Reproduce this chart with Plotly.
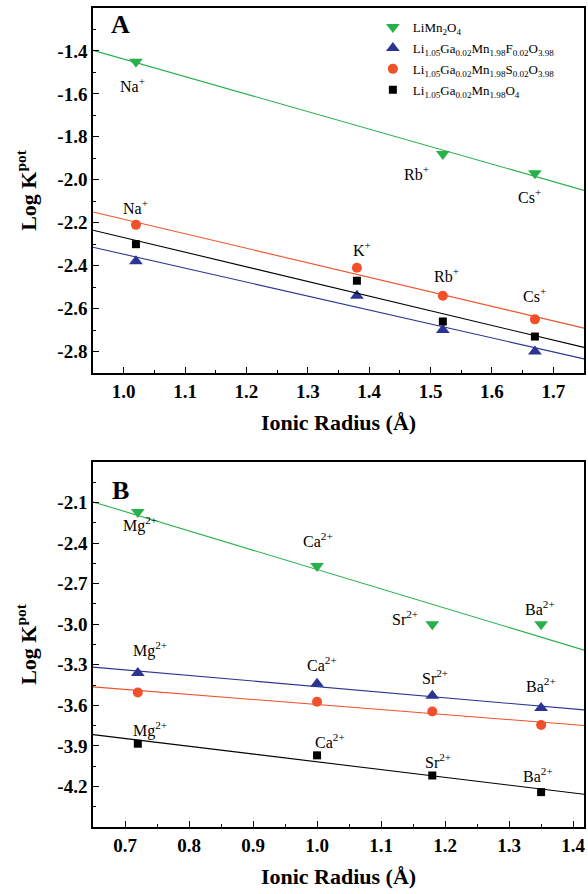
import numpy as np
import plotly.graph_objects as go

# ---------------- data ----------------
series_names = [
    "LiMn<sub>2</sub>O<sub>4</sub>",
    "Li<sub>1.05</sub>Ga<sub>0.02</sub>Mn<sub>1.98</sub>F<sub>0.02</sub>O<sub>3.98</sub>",
    "Li<sub>1.05</sub>Ga<sub>0.02</sub>Mn<sub>1.98</sub>S<sub>0.02</sub>O<sub>3.98</sub>",
    "Li<sub>1.05</sub>Ga<sub>0.02</sub>Mn<sub>1.98</sub>O<sub>4</sub>",
]

# Panel A: monovalent ions
ionsA = ["Na", "K", "Rb", "Cs"]
radiusA = [1.02, 1.38, 1.52, 1.67]
A_LiMn2O4_x = [1.02, 1.52, 1.67]
A_LiMn2O4_y = [-1.45, -1.88, -1.97]
A_F_y = [-2.38, -2.54, -2.70, -2.80]
A_S_y = [-2.21, -2.41, -2.54, -2.65]
A_base_y = [-2.30, -2.47, -2.66, -2.73]

# Panel B: divalent ions
ionsB = ["Mg", "Ca", "Sr", "Ba"]
radiusB = [0.72, 1.00, 1.18, 1.35]
B_LiMn2O4_y = [-2.17, -2.57, -3.00, -3.00]
B_F_y = [-3.36, -3.44, -3.53, -3.62]
B_S_y = [-3.505, -3.574, -3.645, -3.745]
B_base_y = [-3.884, -3.97, -4.119, -4.242]

# tick labels
A_xticks = [1.0, 1.1, 1.2, 1.3, 1.4, 1.5, 1.6, 1.7]
A_xticktext = ["1.0", "1.1", "1.2", "1.3", "1.4", "1.5", "1.6", "1.7"]
A_yticks = [-1.4, -1.6, -1.8, -2.0, -2.2, -2.4, -2.6, -2.8]
A_yticktext = ["-1.4", "-1.6", "-1.8", "-2.0", "-2.2", "-2.4", "-2.6", "-2.8"]
B_xticks = [0.7, 0.8, 0.9, 1.0, 1.1, 1.2, 1.3, 1.4]
B_xticktext = ["0.7", "0.8", "0.9", "1.0", "1.1", "1.2", "1.3", "1.4"]
B_yticks = [-2.1, -2.4, -2.7, -3.0, -3.3, -3.6, -3.9, -4.2]
B_yticktext = ["-2.1", "-2.4", "-2.7", "-3.0", "-3.3", "-3.6", "-3.9", "-4.2"]

# ---------------- style ----------------
GREEN = "#27b14b"
BLUE = "#2b3591"
ORANGE = "#f0502a"
BLACK = "#000000"
FONT = "Liberation Serif"

A_xrange = [0.95, 1.75]
A_yrange = [-2.9, -1.2]
B_xrange = [0.65, 1.417]
B_yrange = [-4.5, -1.8]

fig = go.Figure()

def add_series(x, y, color, symbol, size, name, group, xa, ya, legend):
    fig.add_trace(go.Scatter(
        x=x, y=y, mode="markers", name=name, showlegend=legend, legendgroup=group,
        marker=dict(symbol=symbol, size=size, color=color, line=dict(width=0)),
        xaxis=xa, yaxis=ya, hoverinfo="skip"))
    k, b = np.polyfit(x, y, 1)
    xr = A_xrange if xa == "x" else B_xrange
    xs = np.array(xr)
    fig.add_trace(go.Scatter(
        x=xs, y=k * xs + b, mode="lines", showlegend=False, legendgroup=group,
        line=dict(color=color, width=1.1), xaxis=xa, yaxis=ya, hoverinfo="skip"))

# Panel A
add_series(A_LiMn2O4_x, A_LiMn2O4_y, GREEN, "triangle-down", 12, series_names[0], "g0", "x", "y", True)
add_series(radiusA, A_F_y, BLUE, "triangle-up", 12, series_names[1], "g1", "x", "y", True)
add_series(radiusA, A_S_y, ORANGE, "circle", 10, series_names[2], "g2", "x", "y", True)
add_series(radiusA, A_base_y, BLACK, "square", 8, series_names[3], "g3", "x", "y", True)
# Panel B
add_series(radiusB, B_LiMn2O4_y, GREEN, "triangle-down", 12, series_names[0], "g0", "x2", "y2", False)
add_series(radiusB, B_F_y, BLUE, "triangle-up", 12, series_names[1], "g1", "x2", "y2", False)
add_series(radiusB, B_S_y, ORANGE, "circle", 10, series_names[2], "g2", "x2", "y2", False)
add_series(radiusB, B_base_y, BLACK, "square", 8, series_names[3], "g3", "x2", "y2", False)

annotations = []

def ion_label(text, charge, x, y, dx, dy, xa, ya):
    annotations.append(dict(
        text=f"{text}<sup>{charge}</sup>", x=x, y=y, xref=xa, yref=ya,
        xshift=dx, yshift=dy, showarrow=False, xanchor="center", yanchor="middle",
        font=dict(family=FONT, size=16, color="black")))

# Panel A labels (offsets in px from the marker)
ion_label("Na", "+", A_LiMn2O4_x[0], A_LiMn2O4_y[0], -3, -23, "x", "y")
ion_label("Rb", "+", A_LiMn2O4_x[1], A_LiMn2O4_y[1], -26, -19, "x", "y")
ion_label("Cs", "+", A_LiMn2O4_x[2], A_LiMn2O4_y[2], -5, -23, "x", "y")
A_S_dy = [18, 19, 21, 24]
A_S_dx = [0, 5, 4, 0]
for i in range(4):
    ion_label(ionsA[i], "+", radiusA[i], A_S_y[i], A_S_dx[i], A_S_dy[i], "x", "y")

# Panel B labels
B_G_dx = [2, 1, -27, -1]
B_G_dy = [-13, 26, 6, 16]
B_F_dx = [12, 5, 3, 0]
B_F_dy = [23, 20, 19, 23]
B_K_dx = [12, 13, 6, -3]
B_K_dy = [14, 14, 14, 17]
for i in range(4):
    ion_label(ionsB[i], "2+", radiusB[i], B_LiMn2O4_y[i], B_G_dx[i], B_G_dy[i], "x2", "y2")
    ion_label(ionsB[i], "2+", radiusB[i], B_F_y[i], B_F_dx[i], B_F_dy[i], "x2", "y2")
    ion_label(ionsB[i], "2+", radiusB[i], B_base_y[i], B_K_dx[i], B_K_dy[i], "x2", "y2")

# panel letters
annotations.append(dict(text="<b>A</b>", x=0.055, y=0.956, xref="x domain", yref="y domain",
                        xanchor="center", yanchor="middle",
                        showarrow=False, font=dict(family=FONT, size=26, color="black")))
annotations.append(dict(text="<b>B</b>", x=0.055, y=0.923, xref="x2 domain", yref="y2 domain",
                        xanchor="center", yanchor="middle",
                        showarrow=False, font=dict(family=FONT, size=26, color="black")))

tickfont = dict(family=FONT, size=19, color="black", weight="bold")
titlefont = dict(family=FONT, size=22, color="black", weight="bold")

def xaxis(rng, tv, tt, anchor):
    return dict(range=rng, tickvals=tv, ticktext=tt, anchor=anchor, domain=[0, 1],
                showline=True, linecolor="black", linewidth=1.5, mirror=True,
                ticks="inside", ticklen=6, tickwidth=1.2, tickcolor="black",
                minor=dict(ticks="inside", ticklen=3, tickwidth=1.2, dtick=0.05, tick0=0, tickcolor="black"),
                showgrid=False, zeroline=False, tickfont=tickfont,
                title=dict(text="Ionic Radius (Å)", font=titlefont, standoff=14))

def yaxis(rng, tv, tt, anchor, domain, mdt):
    return dict(range=rng, tickvals=tv, ticktext=tt, anchor=anchor, domain=domain,
                showline=True, linecolor="black", linewidth=1.5, mirror=True,
                ticks="inside", ticklen=6, tickwidth=1.2, tickcolor="black",
                minor=dict(ticks="inside", ticklen=3, tickwidth=1.2, dtick=mdt, tick0=0, tickcolor="black"),
                showgrid=False, zeroline=False, tickfont=tickfont,
                title=dict(text="Log K<sup>pot</sup>", font=titlefont, standoff=15))

fig.update_layout(
    width=588, height=894,
    margin=dict(l=93, r=4, t=8, b=67, autoexpand=False),
    paper_bgcolor="white", plot_bgcolor="white",
    xaxis=xaxis(A_xrange, A_xticks, A_xticktext, "y"),
    yaxis=yaxis(A_yrange, A_yticks, A_yticktext, "x", [0.5543, 1.0], 0.1),
    xaxis2=xaxis(B_xrange, B_xticks, B_xticktext, "y2"),
    yaxis2=yaxis(B_yrange, B_yticks, B_yticktext, "x2", [0.0, 0.4457], 0.15),
    legend=dict(x=0.57, y=0.995, xanchor="left", yanchor="top",
                bgcolor="rgba(0,0,0,0)", borderwidth=0,
                font=dict(family=FONT, size=13, color="black"),
                itemwidth=30, tracegroupgap=1),
    annotations=annotations,
    showlegend=True,
)

# remove the default page margin so the 588x894 figure fills the window exactly
fig.write_html("out.html",
               config={"displayModeBar": False},
               post_script="document.body.style.margin='0';document.body.style.overflow='hidden';")
